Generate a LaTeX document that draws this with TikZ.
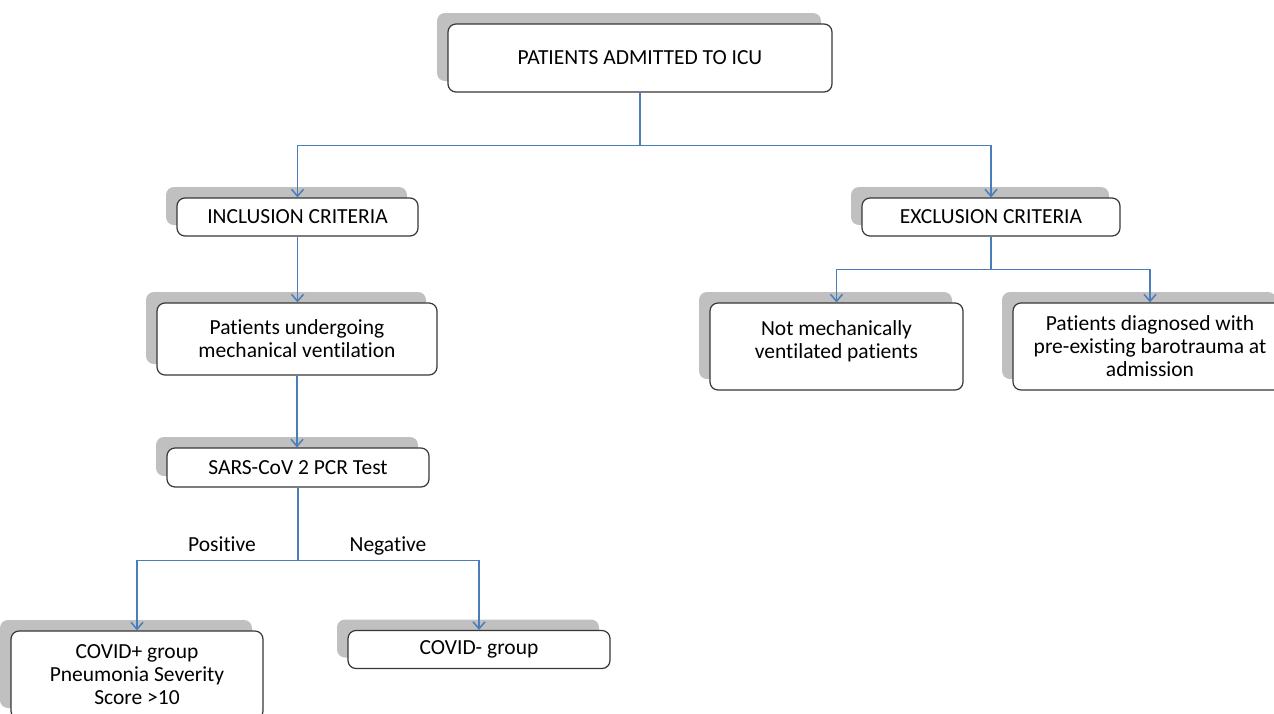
\documentclass[tikz,border=0pt]{standalone}
\usepackage{fontspec}
\setmainfont{Carlito}[Ligatures={NoCommon}]
\usetikzlibrary{arrows.meta,shadows}
\definecolor{linkblue}{RGB}{74,126,187}
\definecolor{shadegray}{RGB}{192,192,192}
\definecolor{rimgray}{RGB}{55,55,55}
\newcommand{\dropx}{-11pt}
\newcommand{\dropy}{11pt}

\begin{document}
\begin{tikzpicture}[x=1pt,y=1pt,
    box/.style={draw=rimgray, line width=1.2pt, rounded corners=8pt, fill=white,
      align=center, inner sep=0pt, font=\fontsize{21.5}{23}\selectfont,
      general shadow={fill=shadegray, shadow xshift=\dropx, shadow yshift=\dropy}},
    link/.style={draw=linkblue, line width=1.5pt},
    arr/.style={link, -{Straight Barb[length=7pt,width=12pt]}},
    tag/.style={font=\fontsize{21.5}{23}\selectfont, inner sep=0pt, anchor=base}]

        % page frame
        \useasboundingbox (0,0) rectangle (1274,-713);

        % Top and criteria boxes
        \node[box, minimum width=384pt, minimum height=68pt] (icu) at (640,-58) {PATIENTS ADMITTED TO ICU};
        \node[box, minimum width=241pt, minimum height=38pt] (incl) at (297.5,-217) {INCLUSION CRITERIA};
        \node[box, minimum width=258pt, minimum height=38pt] (excl) at (991,-217) {EXCLUSION CRITERIA};

        % Inclusion branch
        \node[box, minimum width=280pt, minimum height=72pt] (mech) at (297,-339) {Patients undergoing\\mechanical ventilation};
        \node[box, minimum width=262pt, minimum height=39pt] (pcr) at (298,-467.5) {SARS-CoV 2 PCR Test};
        \node[box, minimum width=252pt, minimum height=88pt] (covpos) at (137,-675) {COVID+ group\\Pneumonia Severity\\Score >10};
        \node[box, minimum width=262pt, minimum height=38pt] (covneg) at (479,-649.5) {COVID- group};

        % Exclusion branch
        \node[box, minimum width=253pt, minimum height=87pt] (notmech) at (836.5,-346.5) {Not mechanically\\ventilated patients\\[-9pt]};
        \node[box, minimum width=274pt, minimum height=87pt] (diag) at (1150,-346.5) {Patients diagnosed with\\pre-existing barotrauma at\\admission};

        % Connectors
        \draw[arr] (icu.south) -- ++(0,-53) -| (incl.north);
        \draw[arr] (icu.south) -- ++(0,-53) -| (excl.north);
        \draw[arr] (incl.south) -- (incl.south |- mech.north);
        \draw[arr] (mech.south) -- (mech.south |- pcr.north);
        \draw[arr] (excl.south) -- ++(0,-33) -| (notmech.north);
        \draw[arr] (excl.south) -- ++(0,-33) -| (diag.north);
        \draw[arr] (pcr.south) -- ++(0,-73) -| (covpos.north);
        \draw[arr] (pcr.south) -- ++(0,-73) -| (covneg.north);

        % Branch labels
        \node[tag] (poslbl) at (222,-551) {Positive};
        \node[tag] (neglbl) at (388,-551) {Negative};
    \end{tikzpicture}
\end{document}
